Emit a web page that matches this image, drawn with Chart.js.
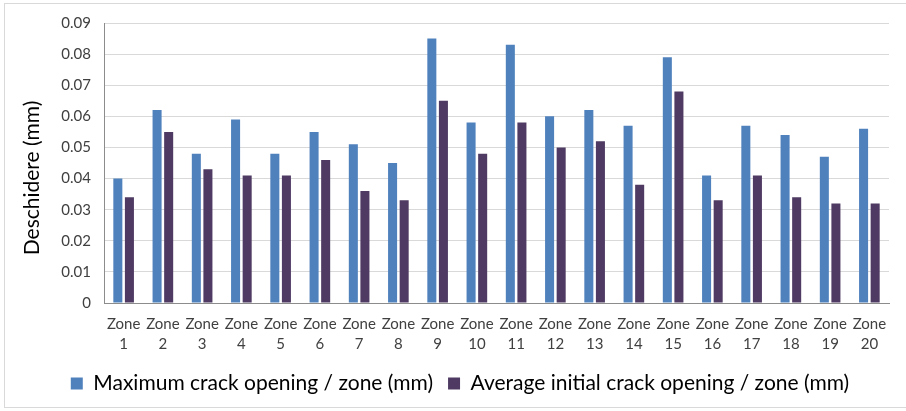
<!DOCTYPE html>
<html>
<head>
<meta charset="utf-8">
<script src="https://cdn.jsdelivr.net/npm/chart.js@4/dist/chart.umd.min.js"></script>
<style>
  html, body { margin: 0; padding: 0; background: #fff; }
  #wrap { width: 906px; height: 411px; position: relative; }
</style>
</head>
<body>
<div id="wrap"><canvas id="c" width="906" height="411"></canvas></div>
<script>
// Zones along the x axis (two-line labels)
const zones = ['1','2','3','4','5','6','7','8','9','10','11','12','13','14','15','16','17','18','19','20'];

// Maximum crack opening per zone (mm)
const maxOpening = [0.040, 0.062, 0.048, 0.059, 0.048, 0.055, 0.051, 0.045, 0.085, 0.058,
                    0.083, 0.060, 0.062, 0.057, 0.079, 0.041, 0.057, 0.054, 0.047, 0.056];

// Average initial crack opening per zone (mm)
const avgInitialOpening = [0.034, 0.055, 0.043, 0.041, 0.041, 0.046, 0.036, 0.033, 0.065, 0.048,
                           0.058, 0.050, 0.052, 0.038, 0.068, 0.033, 0.041, 0.034, 0.032, 0.032];

const seriesNames = ['Maximum crack opening / zone (mm)', 'Average initial crack opening / zone (mm)'];
const yTitle = 'Deschidere (mm)';
const yMin = 0, yMax = 0.09, yStep = 0.01;

const FONT = 'Lato, "Open Sans", sans-serif';

// White background, outer frame and rotated y-axis title
const frame = {
  id: 'frame',
  beforeDraw(chart) {
    const ctx = chart.ctx;
    ctx.save();
    ctx.fillStyle = '#fff';
    ctx.fillRect(0, 0, chart.width, chart.height);
    ctx.strokeStyle = '#d9d9d9';
    ctx.lineWidth = 1;
    ctx.strokeRect(4.5, 3.5, chart.width + 10, 404);
    ctx.restore();
  },
  afterDraw(chart) {
    const ctx = chart.ctx;
    const a = chart.chartArea;
    ctx.save();
    ctx.translate(32, a.top + (a.bottom - a.top) / 2 + 15);
    ctx.rotate(-Math.PI / 2);
    ctx.font = '21px ' + FONT;
    ctx.fillStyle = '#000';
    ctx.textAlign = 'center';
    ctx.textBaseline = 'middle';
    ctx.fillText(yTitle, 0, 0);
    ctx.restore();
  }
};

new Chart(document.getElementById('c'), {
  type: 'bar',
  data: {
    labels: zones.map(z => ['Zone', z]),
    datasets: [
      { label: seriesNames[0], data: maxOpening, backgroundColor: '#4F81BD',
        categoryPercentage: 0.59, barPercentage: 0.78 },
      { label: seriesNames[1], data: avgInitialOpening, backgroundColor: '#4E3A62',
        categoryPercentage: 0.59, barPercentage: 0.78 }
    ]
  },
  options: {
    responsive: false,
    animation: false,
    devicePixelRatio: 1,
    layout: { padding: { top: 23, right: 17, left: 31, bottom: 7 } },
    plugins: {
      tooltip: { enabled: false },
      legend: {
        position: 'bottom',
        labels: {
          boxWidth: 12, boxHeight: 12, padding: 15,
          color: '#000',
          font: { family: FONT, size: 21 }
        }
      }
    },
    scales: {
      x: {
        grid: { display: false, drawTicks: false },
        border: { display: true, color: '#8c8c8c', width: 1 },
        ticks: { color: '#404040', font: { family: FONT, size: 15, lineHeight: 1.33 },
                 padding: 11, maxRotation: 0, autoSkip: false },
        afterFit(scale) { scale.height = 55; }
      },
      y: {
        min: yMin, max: yMax,
        grid: { color: '#d9d9d9', lineWidth: 1, drawTicks: false },
        border: { display: true, color: '#8c8c8c', width: 1 },
        ticks: {
          stepSize: yStep, padding: 13, color: '#404040',
          font: { family: FONT, size: 15 },
          callback: v => String(Number(v.toFixed(2)))
        },
        afterFit(scale) { scale.width = 73; }
      }
    }
  },
  plugins: [frame]
});
</script>
</body>
</html>
